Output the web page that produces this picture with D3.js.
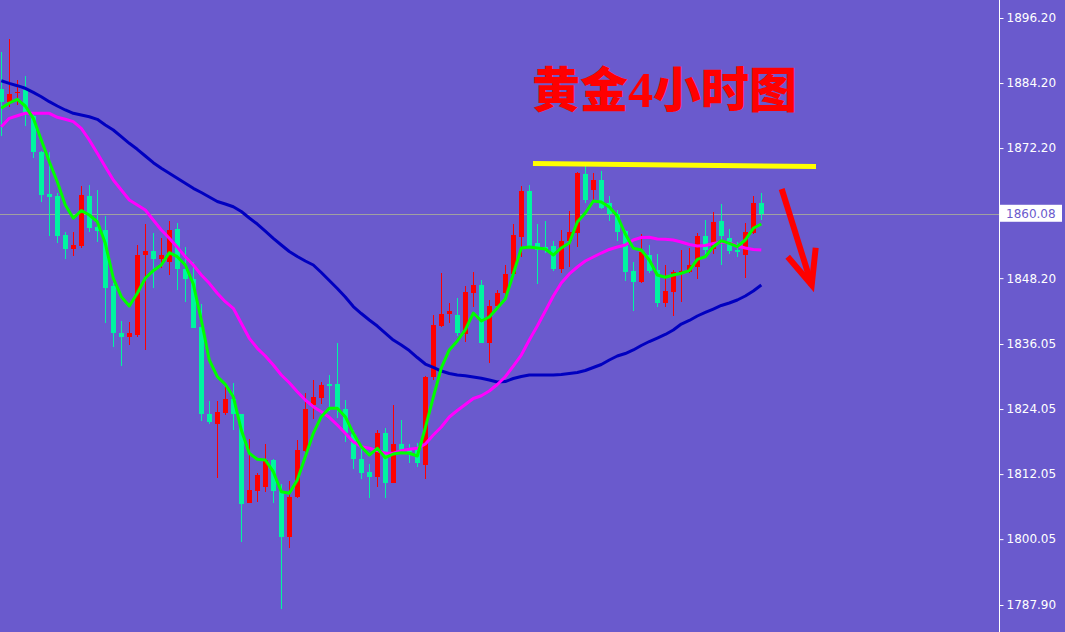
<!DOCTYPE html>
<html><head><meta charset="utf-8">
<script src="https://cdn.jsdelivr.net/npm/d3@7"></script>
<style>html,body{margin:0;padding:0;background:#6A5ACD;overflow:hidden}</style>
</head><body>
<svg id="c" width="1065" height="632"></svg>
<script>
// ---- data (4-hour gold candles, prices in USD) ----
const opens  = [1883.05,1880.76,1882.31,1882.92,1878.12,1871.53,1863.73,1863.41,1856.16,1853.58,
                1854.13,1863.41,1857.64,1857.09,1846.81,1838.14,1837.40,1837.71,1852.47,1853.21,
                1851.74,1851.18,1857.27,1849.89,1848.05,1839.25,1823.08,1821.24,1823.38,1825.91,
                1823.08,1806.77,1808.99,1809.61,1814.65,1808.99,1800.50,1807.88,1816.37,1824.80,
                1826.15,1828.67,1828.67,1824.06,1819.45,1814.84,1812.38,1811.57,1819.58,1810.46,
                1817.55,1816.50,1816.81,1813.73,1829.91,1839.43,1841.53,1841.40,1837.95,1845.41,
                1846.90,1836.29,1843.12,1845.52,1848.97,1855.85,1864.28,1854.69,1853.89,1854.13,
                1849.84,1855.06,1856.59,1867.42,1864.47,1866.31,1862.01,1859.98,1856.90,1849.52,
                1847.55,1852.47,1849.71,1843.67,1845.70,1849.21,1849.39,1850.32,1855.98,1853.53,
                1858.75,1855.56,1853.40,1852.47,1856.59,1862.12];
const highs  = [1889.98,1892.33,1884.76,1885.50,1878.30,1871.66,1871.53,1863.91,1856.77,1856.77,
                1865.26,1865.39,1864.47,1859.67,1847.31,1840.30,1840.11,1854.32,1858.19,1856.59,
                1855.61,1858.75,1858.38,1854.01,1851.24,1843.43,1825.54,1825.54,1828.12,1828.91,
                1823.14,1818.53,1812.25,1817.60,1814.80,1810.17,1810.78,1818.34,1827.07,1829.41,
                1829.10,1830.33,1836.18,1825.72,1820.19,1817.11,1813.86,1820.19,1820.50,1824.80,
                1822.03,1817.60,1817.73,1830.15,1841.40,1849.10,1843.67,1844.49,1846.75,1849.25,
                1847.81,1844.17,1846.07,1850.57,1858.14,1865.26,1865.39,1858.14,1858.75,1855.06,
                1857.09,1860.59,1867.70,1868.89,1867.55,1867.97,1863.36,1860.78,1857.09,1851.24,
                1856.35,1854.32,1852.66,1850.63,1849.71,1853.40,1853.71,1856.59,1858.93,1860.46,
                1861.83,1857.27,1854.93,1858.32,1863.41,1863.97];
const lows   = [1874.43,1879.84,1880.15,1876.27,1870.37,1862.31,1855.98,1854.69,1851.74,1852.34,
                1853.77,1856.77,1854.87,1839.98,1835.56,1831.99,1835.87,1837.29,1834.95,1846.44,
                1850.08,1848.78,1846.02,1843.86,1838.95,1821.90,1821.29,1811.28,1822.95,1820.19,
                1799.47,1806.77,1806.96,1808.80,1806.66,1787.10,1798.36,1807.70,1816.13,1822.22,
                1824.98,1823.75,1822.46,1818.03,1812.94,1811.09,1807.70,1809.61,1807.59,1810.35,
                1815.76,1814.04,1813.30,1811.09,1829.41,1839.19,1839.87,1837.53,1836.51,1842.94,
                1836.29,1832.49,1842.88,1844.72,1848.60,1852.16,1853.89,1847.07,1852.79,1849.60,
                1849.21,1850.32,1854.01,1862.12,1862.62,1860.91,1858.75,1855.06,1847.73,1842.20,
                1847.40,1849.10,1842.94,1842.94,1841.22,1843.86,1849.10,1847.99,1852.29,1852.60,
                1850.63,1852.60,1852.16,1848.18,1856.35,1858.93];
const closes = [1880.76,1882.18,1882.55,1878.73,1871.53,1863.54,1863.23,1855.98,1853.58,1854.32,
                1863.54,1857.40,1856.96,1846.44,1838.14,1837.40,1838.08,1852.47,1853.21,1851.74,
                1852.47,1857.09,1849.89,1848.05,1839.06,1823.08,1821.72,1823.45,1825.91,1823.08,
                1806.48,1809.12,1811.88,1814.65,1808.99,1800.50,1807.88,1816.50,1824.06,1826.22,
                1828.49,1828.36,1824.06,1819.58,1814.84,1812.31,1811.57,1819.58,1810.46,1817.55,
                1816.50,1816.07,1814.04,1829.91,1839.56,1841.59,1842.14,1838.03,1845.65,1846.90,
                1836.29,1843.06,1845.41,1848.97,1856.16,1864.28,1854.13,1853.40,1853.64,1849.84,
                1855.06,1856.77,1867.55,1862.62,1866.31,1861.20,1859.98,1856.77,1849.39,1847.55,
                1853.08,1849.52,1843.67,1845.83,1849.28,1849.52,1850.63,1855.98,1853.40,1858.62,
                1855.98,1853.27,1853.08,1856.77,1862.12,1860.08];
// moving averages
const maFast = [1879.54,1880.52,1881.20,1879.96,1877.69,1873.69,1869.69,1866.00,1861.70,1859.25,
                1860.65,1859.85,1858.62,1854.63,1848.18,1844.78,1843.06,1845.41,1848.18,1849.58,
                1850.63,1852.90,1852.16,1850.63,1847.12,1840.48,1833.10,1830.02,1828.62,1826.33,
                1820.19,1815.89,1814.78,1814.65,1812.49,1808.80,1808.51,1810.96,1815.26,1819.58,
                1822.64,1824.19,1824.19,1822.64,1819.58,1817.11,1815.57,1816.81,1815.08,1815.76,
                1816.00,1815.89,1815.39,1820.56,1826.27,1831.63,1834.95,1836.61,1838.64,1841.77,
                1840.30,1841.03,1842.70,1844.36,1848.97,1853.77,1853.95,1853.77,1853.58,1852.47,
                1853.77,1854.69,1858.56,1860.22,1862.44,1862.25,1861.33,1859.67,1856.35,1853.71,
                1853.40,1851.55,1848.78,1848.36,1848.78,1849.10,1849.58,1851.68,1852.16,1854.01,
                1855.11,1854.63,1854.01,1855.24,1857.40,1858.19];
const maMid  = [1876.15,1877.69,1878.17,1878.62,1878.62,1878.62,1878.62,1877.88,1877.51,1877.07,
                1875.85,1873.69,1871.24,1868.77,1866.31,1864.47,1862.62,1861.70,1860.78,1858.93,
                1857.09,1855.56,1853.89,1852.16,1850.63,1848.78,1847.25,1845.41,1843.86,1842.64,
                1839.87,1837.10,1835.26,1833.84,1832.18,1830.33,1828.91,1827.25,1825.72,1824.49,
                1823.56,1822.53,1821.11,1819.58,1818.03,1817.11,1816.81,1816.37,1815.89,1815.89,
                1816.37,1816.63,1816.81,1817.60,1819.26,1820.74,1822.58,1823.78,1824.89,1826.00,
                1826.51,1827.38,1828.58,1830.02,1831.99,1834.02,1836.79,1839.37,1842.14,1844.91,
                1847.31,1848.97,1850.26,1851.37,1852.10,1852.84,1853.49,1853.95,1854.32,1855.24,
                1855.70,1855.74,1855.43,1855.37,1855.24,1854.87,1854.41,1854.13,1854.23,1854.60,
                1854.87,1854.69,1854.13,1853.77,1853.49,1853.40];
const maSlow = [1884.63,1884.15,1883.71,1883.23,1882.49,1881.68,1880.76,1879.96,1879.23,1878.62,
                1878.30,1877.99,1877.51,1876.46,1875.54,1874.30,1873.08,1871.98,1870.74,1869.50,
                1868.47,1867.55,1866.62,1865.70,1864.78,1864.00,1863.17,1862.34,1861.88,1861.38,
                1860.50,1859.30,1858.19,1856.90,1855.56,1854.32,1853.12,1852.20,1851.37,1850.63,
                1849.24,1847.77,1846.29,1844.72,1842.97,1841.68,1840.48,1839.37,1838.08,1836.79,
                1835.87,1834.85,1833.56,1832.36,1831.72,1831.07,1830.61,1830.33,1830.20,1829.96,
                1829.73,1829.41,1829.04,1829.13,1829.69,1830.06,1830.33,1830.33,1830.33,1830.33,
                1830.43,1830.61,1830.80,1831.16,1831.72,1832.27,1833.10,1833.84,1834.30,1834.95,
                1835.78,1836.51,1837.16,1837.81,1838.64,1839.74,1840.39,1841.22,1841.87,1842.51,
                1843.16,1843.62,1844.17,1844.91,1845.83,1846.94];
const priceTicks = [1896.20,1884.20,1872.20,1848.20,1836.05,1824.05,1812.05,1800.05,1787.90];
const lastPrice = 1860.08;
const titleParts = ["黄金","4","小时图"];
// annotations, in (bar index, price) terms
const resistanceLine = [[66.46,1869.36],[101.84,1868.80]];
const arrowShaft = [[97.55,1864.65],[101.3,1846.94]];
const arrowHead  = [[98.3,1852.16],[101.3,1846.94],[101.8,1853.82]];

// ---- drawing ----
const W = 1065, H = 632, axisX = 999;
const svg = d3.select("#c");
const x = d3.scaleLinear().domain([0, 95]).range([1.3, 761.3]);
const y = d3.scaleLinear().domain([1787.9, 1896.2]).range([605, 18]);

svg.append("rect").attr("width", W).attr("height", H).attr("fill", "#6A5ACD");
svg.append("defs").append("clipPath").attr("id","plot")
  .append("rect").attr("x",0).attr("y",0).attr("width",axisX).attr("height",H);
const plot = svg.append("g").attr("clip-path","url(#plot)");

// last price line
plot.append("line").attr("x1",0).attr("x2",axisX)
  .attr("y1",Math.round(y(lastPrice))+0.5).attr("y2",Math.round(y(lastPrice))+0.5)
  .attr("stroke","#A0A0A0").attr("stroke-width",1);

const UP = "#FF0000", DOWN = "#00F5A0";
const bars = d3.range(opens.length).map(i => ({i, o:opens[i], h:highs[i], l:lows[i], c:closes[i]}));
const cg = plot.append("g").attr("shape-rendering","crispEdges");
cg.selectAll("line.wick").data(bars).join("line")
  .attr("x1", d => Math.round(x(d.i))+0.5).attr("x2", d => Math.round(x(d.i))+0.5)
  .attr("y1", d => y(d.h)).attr("y2", d => y(d.l))
  .attr("stroke", d => d.c >= d.o ? UP : DOWN).attr("stroke-width",1);
cg.selectAll("rect.body").data(bars).join("rect")
  .attr("x", d => Math.round(x(d.i))-2).attr("width", 5)
  .attr("y", d => y(Math.max(d.o,d.c)))
  .attr("height", d => Math.max(1.5, Math.abs(y(d.o)-y(d.c))))
  .attr("fill", d => d.c >= d.o ? UP : DOWN);

const line = d3.line().x((d,i) => x(i)).y(d => y(d)).curve(d3.curveLinear);
plot.append("path").attr("d", line(maSlow)).attr("fill","none").attr("stroke","#0000C0").attr("stroke-width",3).attr("stroke-linejoin","round");
plot.append("path").attr("d", line(maMid)).attr("fill","none").attr("stroke","#FF00FF").attr("stroke-width",3).attr("stroke-linejoin","round");
plot.append("path").attr("d", line(maFast)).attr("fill","none").attr("stroke","#00FF00").attr("stroke-width",3).attr("stroke-linejoin","round");

// annotations
const aline = d3.line().x(d => x(d[0])).y(d => y(d[1]));
svg.append("path").attr("d", aline(resistanceLine)).attr("stroke","#FFFF00").attr("stroke-width",5).attr("fill","none");
svg.append("path").attr("d", aline(arrowShaft)).attr("stroke","#FF0000").attr("stroke-width",6).attr("fill","none");
svg.append("path").attr("d", aline(arrowHead)).attr("stroke","#FF0000").attr("stroke-width",6)
  .attr("fill","none").attr("stroke-linejoin","miter");

// title
const t = svg.append("text").attr("x",532).attr("y",107).attr("fill","#FF0000")
  .attr("font-size",48).attr("font-weight",900).attr("font-family","'Noto Sans CJK SC', sans-serif");
t.append("tspan").text(titleParts[0]);
t.append("tspan").attr("font-family","'Liberation Serif','DejaVu Serif',serif").attr("font-weight","bold").attr("font-size",50).text(titleParts[1]);
t.append("tspan").text(titleParts[2]);

// price axis
svg.append("line").attr("x1",axisX+0.5).attr("x2",axisX+0.5).attr("y1",0).attr("y2",H)
  .attr("stroke","#FFFFFF").attr("stroke-width",1);
const axis = d3.axisRight(y).tickValues(priceTicks).tickFormat(d3.format(".2f")).tickSize(4).tickPadding(3);
const ag = svg.append("g").attr("transform",`translate(${axisX+0.5},0)`).call(axis);
ag.select(".domain").remove();
ag.selectAll("line").attr("stroke","#FFFFFF");
ag.selectAll("text").attr("fill","#FFFFFF").attr("font-size",12).attr("font-family","'DejaVu Sans', Verdana, sans-serif");

// last price label
const ly = y(lastPrice);
svg.append("rect").attr("x",axisX+1).attr("y",ly-9).attr("width",62).attr("height",17).attr("fill","#FFFFFF");
svg.append("text").attr("x",axisX+7).attr("y",ly).attr("dy","0.35em").attr("fill","#6A5ACD")
  .attr("font-size",12).attr("font-family","'DejaVu Sans', Verdana, sans-serif").text(d3.format(".2f")(lastPrice));
</script>
</body></html>
